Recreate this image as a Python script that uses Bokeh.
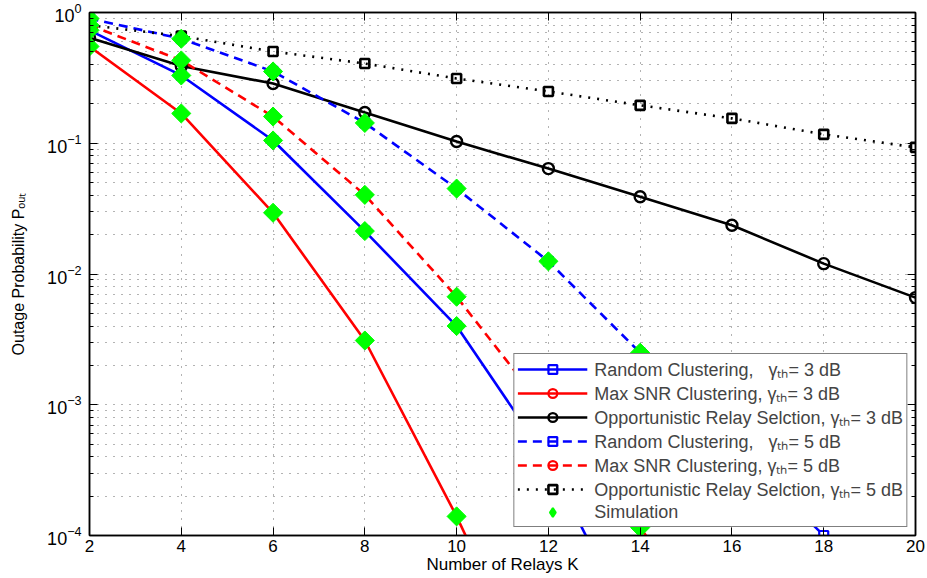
import math
from bokeh.plotting import figure
from bokeh.models import (Range1d, LinearAxis, LogAxis, Legend, LegendItem,
                          FixedTicker, CustomJSTickFormatter)
from bokeh.embed import file_html
from bokeh.resources import INLINE

# ---------------- data ----------------
rc3_k = [2, 4, 6, 8, 10, 12, 14]
rc3_p = [0.73, 0.33, 0.105, 0.0213, 0.0040, 3.7e-4, 1.5e-5]

ms3_k = [2, 4, 6, 8, 10, 12]
ms3_p = [0.55, 0.169, 0.0294, 0.0031, 1.40e-4, 4.5e-6]

ors3_k = [2, 4, 6, 8, 10, 12, 14, 16, 18, 20]
ors3_p = [0.64, 0.39, 0.286, 0.172, 0.103, 0.064, 0.039, 0.0236, 0.0120, 0.0066]

rc5_k = [2, 4, 6, 8, 10, 12, 14, 16, 18, 20]
rc5_p = [0.90, 0.63, 0.354, 0.143, 0.045, 0.0125, 0.0025, 5.0e-4, 1.0e-4, 1.6e-5]

ms5_k = [2, 4, 6, 8, 10, 12, 14, 16]
ms5_p = [0.80, 0.43, 0.160, 0.0403, 0.0067, 8.5e-4, 1.15e-4, 1.2e-5]

ors5_k = [2, 4, 6, 8, 10, 12, 14, 16, 18, 20]
ors5_p = [0.80, 0.66, 0.503, 0.407, 0.313, 0.249, 0.195, 0.155, 0.117, 0.093]

sim_k = [2, 4, 6, 8, 10, 12, 14,
         2, 4, 6, 8, 10,
         2, 4, 6, 8, 10, 12, 14, 16,
         2, 4, 6, 8, 10, 12, 14]
sim_p = [0.73, 0.33, 0.105, 0.0213, 0.0040, 3.7e-4, 1.5e-5,
         0.55, 0.169, 0.0294, 0.0031, 1.40e-4,
         0.90, 0.63, 0.354, 0.143, 0.045, 0.0125, 0.0025, 5.0e-4,
         0.80, 0.43, 0.160, 0.0403, 0.0067, 8.5e-4, 1.15e-4]

x_ticks = [2, 4, 6, 8, 10, 12, 14, 16, 18, 20]
y_ticks = [1e-4, 1e-3, 1e-2, 1e-1, 1.0]
y_minor = [m * 10.0 ** e for e in range(-4, 0) for m in range(2, 10)]

labels = [
    "Random Clustering,\u00a0\u00a0 \u03b3\u209c\u2095= 3 dB",
    "Max SNR Clustering, \u03b3\u209c\u2095= 3 dB",
    "Opportunistic Relay Selction, \u03b3\u209c\u2095= 3 dB",
    "Random Clustering,\u00a0\u00a0 \u03b3\u209c\u2095= 5 dB",
    "Max SNR Clustering, \u03b3\u209c\u2095= 5 dB",
    "Opportunistic Relay Selction, \u03b3\u209c\u2095= 5 dB",
    "Simulation",
]

FONT = "Liberation Sans"

p = figure(width=927, height=578, x_range=Range1d(2, 20),
           y_range=Range1d(1e-4, 1.0), y_axis_type="log",
           output_backend="svg", toolbar_location=None,
           min_border_left=89, min_border_right=12, min_border_top=12,
           min_border_bottom=43, outline_line_color="black",
           outline_line_width=1.5)

xt = FixedTicker(ticks=x_ticks, minor_ticks=[])
yt = FixedTicker(ticks=y_ticks, minor_ticks=y_minor)
bottom = p.below[0]
left = p.left[0]
bottom.ticker = xt
left.ticker = yt

blank = CustomJSTickFormatter(code="return '';")
top = LinearAxis(ticker=xt, formatter=blank, major_label_standoff=0)
right = LogAxis(ticker=yt, formatter=blank, major_label_standoff=0)
p.add_layout(top, "above")
p.add_layout(right, "right")

for ax in (bottom, left, top, right):
    ax.axis_line_color = "black"
    ax.axis_line_width = 1.5
    ax.major_tick_in = 8
    ax.major_tick_out = 0
    ax.minor_tick_in = 4
    ax.minor_tick_out = 0
    ax.major_tick_line_color = "black"
    ax.minor_tick_line_color = "black"
    ax.major_label_text_font = FONT
    ax.major_label_text_font_size = "17px"
    ax.major_label_text_color = "black"
    ax.axis_label_text_font = FONT
    ax.axis_label_text_font_style = "normal"
    ax.axis_label_text_font_size = "17px"
    ax.axis_label_text_color = "black"

left.major_label_text_font_size = "18px"
left.axis_label_text_font_size = "16px"
bottom.major_label_standoff = 4
bottom.axis_label_standoff = 0
left.major_label_standoff = 8
left.axis_label_standoff = 17
bottom.axis_label = "Number of Relays K"
left.axis_label = "Outage Probability P\u2092\u1d64\u209c"

for g in (p.xgrid, p.ygrid):
    g.grid_line_color = "black"
    g.grid_line_alpha = 0.6
    g.grid_line_dash = "1 7"
    g.grid_line_width = 1
p.ygrid.minor_grid_line_color = "black"
p.ygrid.minor_grid_line_alpha = 0.6
p.ygrid.minor_grid_line_dash = "1 7"

LW = 2.6
r1l = p.line(rc3_k, rc3_p, line_color="blue", line_width=LW)
r2l = p.line(ms3_k, ms3_p, line_color="red", line_width=LW)
r3l = p.line(ors3_k, ors3_p, line_color="black", line_width=LW)
r4l = p.line(rc5_k, rc5_p, line_color="blue", line_width=LW, line_dash="9 6")
r5l = p.line(ms5_k, ms5_p, line_color="red", line_width=LW, line_dash="9 6")
r6l = p.line(ors5_k, ors5_p, line_color="black", line_width=LW, line_dash="2 7")

r1m = p.scatter(rc3_k, rc3_p, marker="square", size=9, line_color="blue",
                fill_color=None, line_width=2.2)
r2m = p.scatter(ms3_k, ms3_p, marker="circle", size=10, line_color="red",
                fill_color=None, line_width=2.2)
r3m = p.scatter(ors3_k, ors3_p, marker="circle", size=11, line_color="black",
                fill_color=None, line_width=2.4)
r4m = p.scatter(rc5_k, rc5_p, marker="square", size=9, line_color="blue",
                fill_color=None, line_width=2.2)
r5m = p.scatter(ms5_k, ms5_p, marker="circle", size=10, line_color="red",
                fill_color=None, line_width=2.2)
r6m = p.scatter(ors5_k, ors5_p, marker="square", size=9, line_color="black",
                fill_color=None, line_width=2.6)

# diamond shape (used for the legend sample), covered by the rotated squares
sim_d = p.scatter(sim_k, sim_p, marker="diamond", size=12,
                  fill_color="#00ff00", line_color="#00ff00", line_width=2)
sim = p.scatter(sim_k, sim_p, marker="square", angle=math.pi / 4, size=13.5,
                fill_color="#00ff00", line_color="#00ff00")

items = [
    LegendItem(label=labels[0], renderers=[r1l, r1m]),
    LegendItem(label=labels[1], renderers=[r2l, r2m]),
    LegendItem(label=labels[2], renderers=[r3l, r3m]),
    LegendItem(label=labels[3], renderers=[r4l, r4m]),
    LegendItem(label=labels[4], renderers=[r5l, r5m]),
    LegendItem(label=labels[5], renderers=[r6l, r6m]),
    LegendItem(label=labels[6], renderers=[sim_d]),
]
legend = Legend(items=items, location="bottom_right", margin=8,
                padding=3, spacing=-2, glyph_width=70, glyph_height=22,
                label_height=21, label_standoff=7,
                label_text_font=FONT, label_text_font_size="18px",
                border_line_color="black", border_line_width=1.8,
                background_fill_color="white", background_fill_alpha=1.0)
p.add_layout(legend)

open("out.html", "w").write(file_html(p, INLINE))
